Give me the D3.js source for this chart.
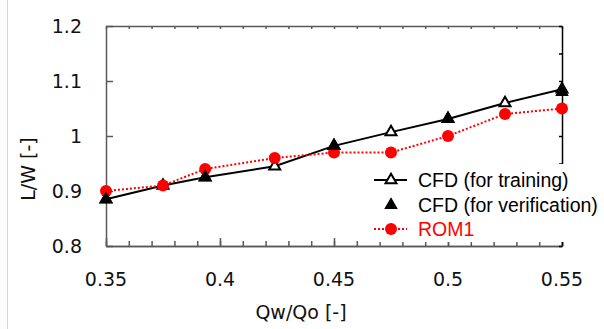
<!DOCTYPE html>
<html><head><meta charset="utf-8">
<script src="https://cdn.jsdelivr.net/npm/d3@7"></script>
<style>body{margin:0;background:#fff}svg{display:block}</style>
</head><body>
<script>
// Data
const xTraining = [0.35, 0.375, 0.3935, 0.424, 0.45, 0.475, 0.5, 0.525, 0.55];
const yTraining = [0.885, 0.91, 0.925, 0.945, 0.982, 1.007, 1.031, 1.06, 1.085];
const xVerification = [0.35, 0.3935, 0.45, 0.5, 0.55];
const yVerification = [0.885, 0.925, 0.982, 1.031, 1.08];
const xRom = [0.35, 0.375, 0.3935, 0.424, 0.45, 0.475, 0.5, 0.525, 0.55];
const yRom = [0.90, 0.91, 0.94, 0.96, 0.97, 0.97, 1.00, 1.04, 1.05];
const xTicks = [0.35, 0.4, 0.45, 0.5, 0.55];
const yTicks = [0.8, 0.9, 1.0, 1.1, 1.2];
const xTickLabels = ["0.35", "0.4", "0.45", "0.5", "0.55"];
const yTickLabels = ["0.8", "0.9", "1", "1.1", "1.2"];
const legendLabels = ["CFD (for training)", "CFD (for verification)", "ROM1"];

const W = 604, H = 329;
const m = {l: 106, r: 42, t: 26, b: 83};
const svg = d3.select("body").append("svg").attr("width", W).attr("height", H);
const x = d3.scaleLinear().domain([0.35, 0.55]).range([m.l, W - m.r]);
const y = d3.scaleLinear().domain([0.8, 1.2]).range([H - m.b, m.t]);
const axisCol = "#595959";
const tickFont = "DejaVu Sans, sans-serif";

// faint page edge line
svg.append("line").attr("x1", 7.5).attr("x2", 7.5).attr("y1", 0).attr("y2", H)
  .attr("stroke", "#d4d4d4").attr("stroke-width", 1);

// minor tick values
const minorX = d3.range(0, 21).map(i => +(0.35 + i * 0.01).toFixed(3));
const rightTicks = d3.range(0, 9).map(i => +(0.8 + i * 0.05).toFixed(3));

// top axis (ticks inward)
const gTop = svg.append("g").attr("transform", `translate(0,${y(1.2)})`)
  .call(d3.axisBottom(x).tickValues(minorX).tickSize(3).tickSizeOuter(0).tickFormat(""));
// bottom axis minor (inward)
const gBot = svg.append("g").attr("transform", `translate(0,${y(0.8)})`)
  .call(d3.axisTop(x).tickValues(minorX).tickSize(5).tickSizeOuter(0).tickFormat(""));
const gBotMaj = svg.append("g").attr("transform", `translate(0,${y(0.8)})`)
  .call(d3.axisTop(x).tickValues(xTicks).tickSize(8).tickSizeOuter(0).tickFormat(""));
// left axis (ticks inward)
const gLeft = svg.append("g").attr("transform", `translate(${x(0.35)},0)`)
  .call(d3.axisRight(y).tickValues(yTicks).tickSize(7).tickSizeOuter(0).tickFormat(""));
[gTop, gBot, gBotMaj, gLeft].forEach(g => {
  g.selectAll("path,line").attr("stroke", axisCol).attr("stroke-width", 1.5);
});
// right axis
const gRight = svg.append("g").attr("transform", `translate(${x(0.55)},0)`)
  .call(d3.axisLeft(y).tickValues(rightTicks).tickSize(3).tickSizeOuter(0).tickFormat(""));
gRight.selectAll("path,line").attr("stroke", "#000").attr("stroke-width", 1.5);

// tick labels
svg.append("g").selectAll("text").data(xTicks).join("text")
  .attr("x", d => x(d)).attr("y", 279).attr("text-anchor", "middle").attr("dominant-baseline", "central")
  .attr("font-family", tickFont).attr("font-size", 19).attr("fill", "#111")
  .text((d, i) => xTickLabels[i]);
svg.append("g").selectAll("text").data(yTicks).join("text")
  .attr("x", 82).attr("y", d => y(d)).attr("text-anchor", "end").attr("dominant-baseline", "central")
  .attr("font-family", tickFont).attr("font-size", 19).attr("fill", "#111")
  .text((d, i) => yTickLabels[i]);

// axis titles
svg.append("text").attr("x", 301).attr("y", 312).attr("text-anchor", "middle").attr("dominant-baseline", "central")
  .attr("font-family", tickFont).attr("font-size", 19).attr("fill", "#111").text("Qw/Qo [-]");
svg.append("text").attr("transform", "translate(28,169) rotate(-90)").attr("text-anchor", "middle")
  .attr("dominant-baseline", "central").attr("font-family", tickFont).attr("font-size", 19)
  .attr("fill", "#111").text("L/W [-]");

const tri = d3.symbol().type(d3.symbolTriangle).size(52);

const training = xTraining.map((v, i) => [v, yTraining[i]]);
const rom = xRom.map((v, i) => [v, yRom[i]]);
const verification = xVerification.map((v, i) => [v, yVerification[i]]);
const line = d3.line().x(d => x(d[0])).y(d => y(d[1]));

// training line + open triangles
svg.append("path").datum(training).attr("d", line).attr("fill", "none")
  .attr("stroke", "#000").attr("stroke-width", 2);
svg.append("g").selectAll("path").data(training).join("path")
  .attr("d", tri).attr("transform", d => `translate(${x(d[0])},${y(d[1])})`)
  .attr("fill", "#fff").attr("stroke", "#000").attr("stroke-width", 2);

// ROM1
svg.append("path").datum(rom).attr("d", line).attr("fill", "none")
  .attr("stroke", "#ff0000").attr("stroke-width", 2).attr("stroke-dasharray", "2,2");
svg.append("g").selectAll("circle").data(rom).join("circle")
  .attr("cx", d => x(d[0])).attr("cy", d => y(d[1])).attr("r", 6).attr("fill", "#ff0000");

// verification
svg.append("g").selectAll("path").data(verification).join("path")
  .attr("d", tri).attr("transform", d => `translate(${x(d[0])},${y(d[1])})`)
  .attr("fill", "#000").attr("stroke", "#000").attr("stroke-width", 1.5);

// legend
const lg = svg.append("g");
lg.append("rect").attr("x", 366).attr("y", 164).attr("width", 238).attr("height", 78).attr("fill", "#fff");
const rows = [180, 205, 229];
const lx1 = 374, lx2 = 407, lcx = 391, ltx = 418;
lg.append("line").attr("x1", lx1).attr("x2", lx2).attr("y1", rows[0]).attr("y2", rows[0])
  .attr("stroke", "#000").attr("stroke-width", 2);
lg.append("path").attr("d", tri).attr("transform", `translate(${lcx},${rows[0]})`)
  .attr("fill", "#fff").attr("stroke", "#000").attr("stroke-width", 2);
lg.append("path").attr("d", tri).attr("transform", `translate(${lcx},${rows[1]})`)
  .attr("fill", "#000").attr("stroke", "#000").attr("stroke-width", 1.5);
lg.append("line").attr("x1", lx1).attr("x2", lx2).attr("y1", rows[2]).attr("y2", rows[2])
  .attr("stroke", "#ff0000").attr("stroke-width", 2).attr("stroke-dasharray", "2,2");
lg.append("circle").attr("cx", lcx).attr("cy", rows[2]).attr("r", 6).attr("fill", "#ff0000");
lg.selectAll("text").data(legendLabels).join("text")
  .attr("x", ltx).attr("y", (d, i) => rows[i]).attr("dominant-baseline", "central")
  .attr("font-family", "Liberation Sans, Arial, sans-serif").attr("font-size", 19.5)
  .attr("fill", (d, i) => i === 2 ? "#ff0000" : "#000").text(d => d);
</script>
</body></html>
